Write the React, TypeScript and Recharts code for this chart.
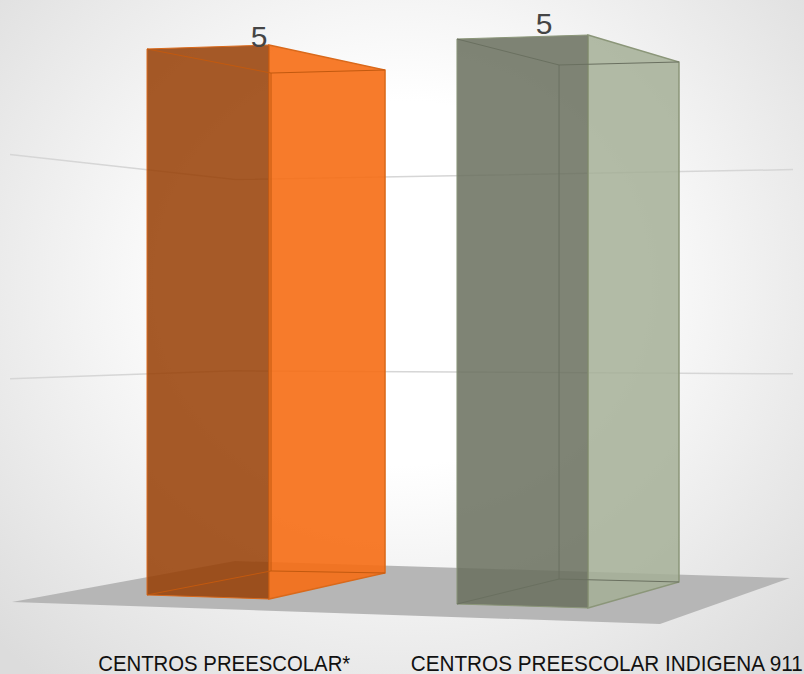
import React from "react";
import { BarChart, Bar, XAxis, YAxis, CartesianGrid, LabelList } from "recharts";

const categories = ["CENTROS PREESCOLAR*", "CENTROS PREESCOLAR INDIGENA 911"];
const values = [5, 5];
const yTicks = [0, 2, 4];

const data = categories.map((name, i) => ({ name, value: values[i] }));

// colours per bar: side face, shaded face, outline, inner edges
const boxColors = [
  { light: "rgba(246,109,20,0.9)", dark: "rgba(150,61,2,0.85)", edge: "#d9691b", inner: "#c2590f" },
  { light: "rgba(165,175,150,0.85)", dark: "rgba(105,110,93,0.85)", edge: "#8b9679", inner: "#6a7060" },
];

// perspective of each box, as ratios of the bar rect: dx from centre (of width), top and bottom shift (of height)
const boxEdges = [
  {
    left: [-0.484, 0.0125, -0.009],
    near: [0.484, 0.0054, -0.0018],
    right: [1.405, 0.0502, -0.0484],
    far: [0.5, 0.0556, -0.052],
  },
  {
    left: [-0.52, -0.0054, 0.0072],
    near: [0.52, -0.0125, 0.0143],
    right: [1.242, 0.0358, -0.0323],
    far: [0.29, 0.0412, -0.0376],
  },
];

const labelShift = [
  { dx: 51, dy: 5 },
  { dx: 21.5, dy: -8 },
];

const tickShift = [16, 84];
const tickLength = [252, 392];

function Box(props: any) {
  const { x, y, width, height, index } = props;
  const cx = x + width / 2;
  const c = boxColors[index];
  const e = boxEdges[index];
  const top = (k: number[]) => `${cx + k[0] * width},${y + k[1] * height}`;
  const bot = (k: number[]) => `${cx + k[0] * width},${y + height + k[2] * height}`;
  return (
    <g>
      <polygon points={`${top(e.near)} ${top(e.right)} ${bot(e.right)} ${bot(e.near)}`} fill={c.light} stroke={c.edge} strokeWidth={1.5} />
      <polygon points={`${top(e.left)} ${top(e.near)} ${bot(e.near)} ${bot(e.left)}`} fill={c.dark} stroke={c.edge} strokeWidth={1} />
      <polyline points={`${top(e.left)} ${top(e.far)} ${top(e.right)}`} fill="none" stroke={c.inner} strokeWidth={1} />
      <polyline points={`${bot(e.left)} ${bot(e.far)} ${bot(e.right)}`} fill="none" stroke={c.inner} strokeWidth={1} />
      <line x1={cx + e.far[0] * width} y1={y + e.far[1] * height} x2={cx + e.far[0] * width} y2={y + height + e.far[2] * height} stroke={c.inner} strokeWidth={1} />
    </g>
  );
}

// value 0 is the floor, the others bend along the two back walls
function WallLine(props: any) {
  const { x1, y1, index } = props;
  if (index === 0) {
    const pts = [[-39, 2], [184, -39], [739, -22], [609, 24]];
    return <polygon points={pts.map((p) => `${x1 + p[0]},${y1 + p[1]}`).join(" ")} fill="#b6b6b6" />;
  }
  if (index > 2) return null;
  const bends = index === 1 ? [[-41, 2], [184, -6], [742, -3]] : [[-41, 1], [184, 26], [742, 16]];
  return (
    <polyline
      points={bends.map((p) => `${x1 + p[0]},${y1 + p[1]}`).join(" ")}
      fill="none"
      stroke="#d6d6d6"
      strokeWidth={1.5}
    />
  );
}

function ValueLabel(props: any) {
  const { x, y, width, value, index } = props;
  return (
    <text
      x={x + width / 2 + labelShift[index].dx}
      y={y + labelShift[index].dy}
      textAnchor="middle"
      fontSize={30}
      fontFamily="'Liberation Sans', sans-serif"
      fill="#454545"
    >
      {value}
    </text>
  );
}

function CategoryTick(props: any) {
  const { x, y, payload, index } = props;
  return (
    <text
      x={x + tickShift[index]}
      y={y + 63}
      textAnchor="middle"
      fontSize={22}
      fontFamily="'Liberation Sans', sans-serif"
      fill="#111111"
      textLength={tickLength[index]}
      lengthAdjust="spacingAndGlyphs"
    >
      {payload.value}
    </text>
  );
}

export default function App() {
  return (
    <div
      style={{
        position: "absolute",
        left: 0,
        top: 0,
        width: 804,
        height: 674,
        overflow: "hidden",
        background: "radial-gradient(ellipse 560px 520px at 50% 42%, #ffffff 35%, #dcdcdc 100%)",
      }}
    >
      <BarChart
        width={804}
        height={674}
        data={data}
        barSize={126}
        margin={{ top: 42, right: 124, bottom: 0, left: 51 }}
      >
        <CartesianGrid horizontal={WallLine} vertical={false} />
        <XAxis dataKey="name" height={74} axisLine={false} tickLine={false} tick={CategoryTick} interval={0} />
        <YAxis hide domain={[0, 5]} ticks={yTicks} />
        <Bar dataKey="value" shape={Box} isAnimationActive={false}>
          <LabelList dataKey="value" content={ValueLabel} />
        </Bar>
      </BarChart>
    </div>
  );
}
